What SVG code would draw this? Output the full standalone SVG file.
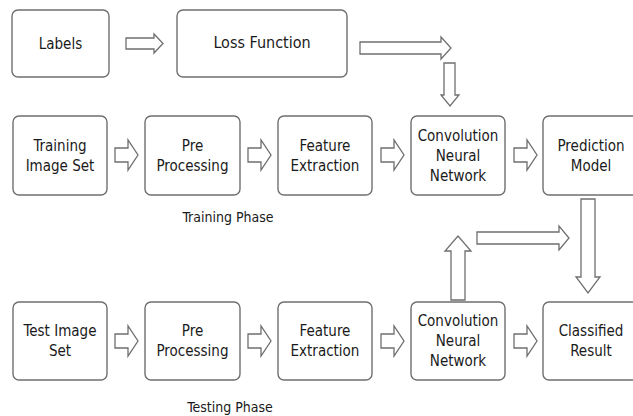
<svg xmlns="http://www.w3.org/2000/svg" width="633" height="416" viewBox="0 0 633 416">
<style>
.box{fill:#fff;stroke:#6f6f6f;stroke-width:1.4}
.arr{fill:#fff;stroke:#6f6f6f;stroke-width:1.3;stroke-linejoin:miter}
text{font-family:"DejaVu Sans Condensed","Liberation Sans",Arial,sans-serif;font-stretch:condensed;font-size:15px;fill:#1a1a1a;text-anchor:middle}
.ph{font-size:14px}
.lg{font-size:16px}
</style>
<defs>
<path id="ra" d="M0,-7 H13 V-15 L23,0 L13,15 V7 H0 Z"/>
</defs>
<rect width="633" height="416" fill="#fff"/>
<g id="labels"><rect class="box" x="12" y="10" width="97" height="67" rx="6"/><text x="60.5" y="49">Labels</text></g>
<g id="loss"><rect class="box" x="177" y="10" width="170" height="67" rx="6"/><text class="lg" x="262" y="48">Loss Function</text></g>
<g id="train-img"><rect class="box" x="13" y="116" width="94" height="79" rx="6"/><text x="60" y="151">Training</text><text x="60" y="171">Image Set</text></g>
<g id="train-pre"><rect class="box" x="145" y="116" width="95" height="79" rx="6"/><text x="192.5" y="151">Pre</text><text x="192.5" y="171">Processing</text></g>
<g id="train-feat"><rect class="box" x="278" y="116" width="94" height="79" rx="6"/><text x="325" y="151">Feature</text><text x="325" y="171">Extraction</text></g>
<g id="train-cnn"><rect class="box" x="411" y="116" width="94" height="79" rx="6"/><text x="458" y="141">Convolution</text><text x="458" y="161">Neural</text><text x="458" y="181">Network</text></g>
<g id="pred"><rect class="box" x="543" y="116" width="96" height="79" rx="6"/><text x="591" y="151">Prediction</text><text x="591" y="171">Model</text></g>
<g id="train-phase"><text class="ph" x="228" y="222">Training Phase</text></g>
<g id="test-img"><rect class="box" x="13" y="302" width="94" height="78" rx="6"/><text x="60" y="336">Test Image</text><text x="60" y="356">Set</text></g>
<g id="test-pre"><rect class="box" x="145" y="302" width="95" height="78" rx="6"/><text x="192.5" y="336">Pre</text><text x="192.5" y="356">Processing</text></g>
<g id="test-feat"><rect class="box" x="278" y="302" width="94" height="78" rx="6"/><text x="325" y="336">Feature</text><text x="325" y="356">Extraction</text></g>
<g id="test-cnn"><rect class="box" x="411" y="302" width="94" height="78" rx="6"/><text x="458" y="326">Convolution</text><text x="458" y="346">Neural</text><text x="458" y="366">Network</text></g>
<g id="result"><rect class="box" x="543" y="302" width="96" height="78" rx="6"/><text x="591" y="336">Classified</text><text x="591" y="356">Result</text></g>
<g id="test-phase"><text class="ph" x="230" y="412">Testing Phase</text></g>
<g id="connectors">
<path class="arr" d="M126,38 H154 V34 L163,43.5 L154,53 V49 H126 Z"/>
<path class="arr" d="M360,42 H441 V37 L451,48 L441,59 V54 H360 Z"/>
<path class="arr" d="M444,63 V95 H441 L450,106 L459,95 H455 V63 Z"/>
<use class="arr" href="#ra" x="115" y="155"/>
<use class="arr" href="#ra" x="248" y="155"/>
<use class="arr" href="#ra" x="381" y="155"/>
<use class="arr" href="#ra" x="514" y="155"/>
<use class="arr" href="#ra" x="115" y="341"/>
<use class="arr" href="#ra" x="248" y="341"/>
<use class="arr" href="#ra" x="381" y="341"/>
<use class="arr" href="#ra" x="514" y="341"/>
<path class="arr" d="M581,199 V277 H576 L588,293 L600,277 H595 V199 Z"/>
<path class="arr" d="M451,300 V251 H445 L458,236 L471,251 H465 V300 Z"/>
<path class="arr" d="M477,232 H559 V226 L569,238 L559,250 V244 H477 Z"/>
</g>
</svg>
